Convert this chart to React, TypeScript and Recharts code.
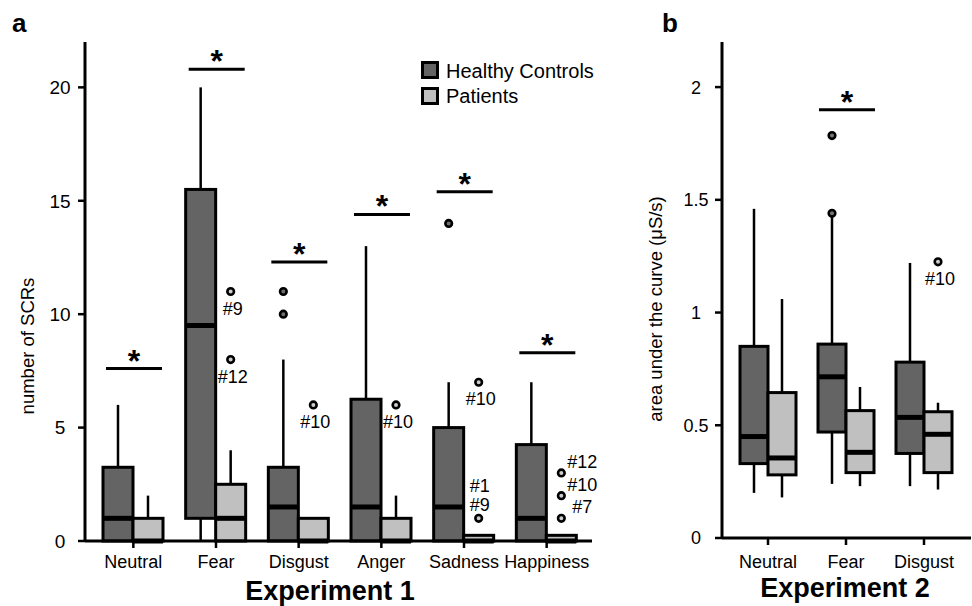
import React from 'react';
import { Bar, ComposedChart, XAxis, YAxis } from 'recharts';

const FONT = '"Liberation Sans", Arial, Helvetica, sans-serif';
const HC_FILL = '#646464';
const P_FILL = '#c0c0c0';

// ---- Experiment 1: number of SCRs ----
const EXP1_CATS = ['Neutral', 'Fear', 'Disgust', 'Anger', 'Sadness', 'Happiness'];

const EXP1_HC_MIN = [0, 0, 0, 0, 0, 0];
const EXP1_HC_Q1 = [0, 1, 0, 0, 0, 0];
const EXP1_HC_MED = [1, 9.5, 1.5, 1.5, 1.5, 1];
const EXP1_HC_Q3 = [3.25, 15.5, 3.25, 6.25, 5, 4.25];
const EXP1_HC_MAX = [6, 20, 8, 13, 7, 7];

const EXP1_P_MIN = [0, 0, 0, 0, 0, 0];
const EXP1_P_Q1 = [0, 0, 0, 0, 0, 0];
const EXP1_P_MED = [0, 1, 0, 0, 0, 0];
const EXP1_P_Q3 = [1, 2.5, 1, 1, 0.25, 0.25];
const EXP1_P_MAX = [2, 4, 1, 2, 0.25, 0.25];

// height of the significance bar (in SCRs), null = none
const EXP1_SIG = [7.6, 20.8, 12.3, 14.4, 15.4, 8.3];

const EXP1_HC_OUTLIERS = [
  { cat: 'Disgust', v: 11, labels: [] as string[] },
  { cat: 'Disgust', v: 10, labels: [] as string[] },
  { cat: 'Sadness', v: 14, labels: [] as string[] },
];
const EXP1_HC_LABEL_SIDE = ['below', 'below', 'below'];

const EXP1_P_OUTLIERS = [
  { cat: 'Fear', v: 11, labels: ['#9'] },
  { cat: 'Fear', v: 8, labels: ['#12'] },
  { cat: 'Disgust', v: 6, labels: ['#10'] },
  { cat: 'Anger', v: 6, labels: ['#10'] },
  { cat: 'Sadness', v: 7, labels: ['#10'] },
  { cat: 'Sadness', v: 1, labels: ['#1', '#9'] },
  { cat: 'Happiness', v: 3, labels: ['#12'] },
  { cat: 'Happiness', v: 2, labels: ['#10'] },
  { cat: 'Happiness', v: 1, labels: ['#7'] },
];
const EXP1_P_LABEL_SIDE = ['below', 'below', 'below', 'below', 'below', 'above', 'right', 'right', 'right'];

const EXP1_TICKS = [0, 5, 10, 15, 20];

// ---- Experiment 2: area under the curve ----
const EXP2_CATS = ['Neutral', 'Fear', 'Disgust'];

const EXP2_HC_MIN = [0.2, 0.24, 0.23];
const EXP2_HC_Q1 = [0.33, 0.47, 0.375];
const EXP2_HC_MED = [0.45, 0.715, 0.535];
const EXP2_HC_Q3 = [0.85, 0.86, 0.78];
const EXP2_HC_MAX = [1.46, 1.43, 1.22];

const EXP2_P_MIN = [0.18, 0.23, 0.215];
const EXP2_P_Q1 = [0.28, 0.29, 0.29];
const EXP2_P_MED = [0.355, 0.38, 0.46];
const EXP2_P_Q3 = [0.645, 0.565, 0.56];
const EXP2_P_MAX = [1.06, 0.67, 0.6];

const EXP2_SIG = [null, 1.9, null];

const EXP2_HC_OUTLIERS = [
  { cat: 'Fear', v: 1.44, labels: [] as string[] },
  { cat: 'Fear', v: 1.785, labels: [] as string[] },
];
const EXP2_HC_LABEL_SIDE = ['below', 'below'];
const EXP2_P_OUTLIERS = [{ cat: 'Disgust', v: 1.225, labels: ['#10'] }];
const EXP2_P_LABEL_SIDE = ['below'];

const EXP2_TICKS = [0, 0.5, 1, 1.5, 2];

// label offsets relative to the outlier circle
const LABEL_PLACE: Record<string, { dx: number; dy: number }> = {
  below: { dx: 2, dy: 23 },
  above: { dx: 1, dy: -26 },
  right: { dx: 21, dy: -5 },
};

type Stats = { min: number; q1: number; med: number; q3: number; max: number };
type Outlier = { cat: string; v: number; labels: string[]; side?: string };

const stats = (mn: number[], q1: number[], md: number[], q3: number[], mx: number[], i: number): Stats => ({
  min: mn[i],
  q1: q1[i],
  med: md[i],
  q3: q3[i],
  max: mx[i],
});

const withSide = (list: Outlier[], sides: string[]) => list.map((o, i) => ({ ...o, side: sides[i] }));

const EXP1_DATA = EXP1_CATS.map((cat, i) => ({
  cat,
  hcBox: [EXP1_HC_Q1[i], EXP1_HC_Q3[i]],
  pBox: [EXP1_P_Q1[i], EXP1_P_Q3[i]],
  hc: stats(EXP1_HC_MIN, EXP1_HC_Q1, EXP1_HC_MED, EXP1_HC_Q3, EXP1_HC_MAX, i),
  p: stats(EXP1_P_MIN, EXP1_P_Q1, EXP1_P_MED, EXP1_P_Q3, EXP1_P_MAX, i),
  hcOut: withSide(EXP1_HC_OUTLIERS, EXP1_HC_LABEL_SIDE).filter((o) => o.cat === cat),
  pOut: withSide(EXP1_P_OUTLIERS, EXP1_P_LABEL_SIDE).filter((o) => o.cat === cat),
  sig: EXP1_SIG[i],
}));

const EXP2_DATA = EXP2_CATS.map((cat, i) => ({
  cat,
  hcBox: [EXP2_HC_Q1[i], EXP2_HC_Q3[i]],
  pBox: [EXP2_P_Q1[i], EXP2_P_Q3[i]],
  hc: stats(EXP2_HC_MIN, EXP2_HC_Q1, EXP2_HC_MED, EXP2_HC_Q3, EXP2_HC_MAX, i),
  p: stats(EXP2_P_MIN, EXP2_P_Q1, EXP2_P_MED, EXP2_P_Q3, EXP2_P_MAX, i),
  hcOut: withSide(EXP2_HC_OUTLIERS, EXP2_HC_LABEL_SIDE).filter((o) => o.cat === cat),
  pOut: withSide(EXP2_P_OUTLIERS, EXP2_P_LABEL_SIDE).filter((o) => o.cat === cat),
  sig: EXP2_SIG[i],
}));

// Box plot drawn from the bar's own [q1, q3] rectangle (scale derived from it)
const BoxShape = (props: any) => {
  const { x, y, width, height, payload, group, fill, outFill, isLeft } = props;
  const s: Stats = payload[group];
  const outliers: Outlier[] = payload[group === 'hc' ? 'hcOut' : 'pOut'];
  const k = height / (s.q3 - s.q1);
  const py = (v: number) => y + height - (v - s.q1) * k;
  const cx = x + width / 2;
  const center = isLeft ? x + width : x;

  return (
    <g>
      {s.max > s.q3 && <line x1={cx} x2={cx} y1={py(s.q3)} y2={py(s.max)} stroke="#000" strokeWidth={2.5} />}
      {s.min < s.q1 && <line x1={cx} x2={cx} y1={py(s.q1)} y2={py(s.min)} stroke="#000" strokeWidth={2.5} />}
      <rect x={x} y={y} width={width} height={height} fill={fill} stroke="#000" strokeWidth={3} />
      <line x1={x} x2={x + width} y1={py(s.med)} y2={py(s.med)} stroke="#000" strokeWidth={5} />
      {outliers.map((o, i) => {
        const oy = py(o.v);
        const place = LABEL_PLACE[o.side || 'below'];
        return (
          <g key={i}>
            <circle cx={cx} cy={oy} r={3.3} fill={outFill} stroke="#000" strokeWidth={2.6} />
            {o.labels.map((lb, j) => (
              <text
                key={j}
                x={cx + place.dx}
                y={oy + place.dy + j * 19}
                textAnchor="middle"
                fontSize={18}
                fontFamily={FONT}
                fill="#000"
              >
                {lb}
              </text>
            ))}
          </g>
        );
      })}
      {isLeft && payload.sig != null && (
        <g>
          <line x1={center - 27} x2={center + 29} y1={py(payload.sig)} y2={py(payload.sig)} stroke="#000" strokeWidth={3} />
          <text
            x={center + 1}
            y={py(payload.sig) + 3}
            textAnchor="middle"
            fontSize={32}
            fontWeight="bold"
            fontFamily={FONT}
            fill="#000"
          >
            *
          </text>
        </g>
      )}
    </g>
  );
};

const YTick = (props: any) => {
  const { x, y, payload, shift, size } = props;
  return (
    <text x={x - shift} y={y} dy="0.36em" textAnchor="middle" fontSize={size} fontFamily={FONT} fill="#000">
      {String(payload.value)}
    </text>
  );
};

const axisLine = { stroke: '#000', strokeWidth: 3 };
const tickLine = { stroke: '#000', strokeWidth: 2.5 };
const xTick = { fontSize: 18, fill: '#000', fontFamily: FONT };

export default function App() {
  return (
    <div style={{ position: 'absolute', left: 0, top: 0, width: 972, height: 606, background: '#fff', fontFamily: FONT }}>
      <div style={{ position: 'absolute', left: 0, top: 0 }}>
        <ComposedChart width={600} height={606} data={EXP1_DATA} margin={{ top: 42, right: 8, bottom: 0, left: 0 }} barGap={0} barSize={30}>
          <XAxis
            dataKey="cat"
            type="category"
            height={65}
            padding={{ left: 7, right: 4 }}
            axisLine={axisLine}
            tickLine={tickLine}
            tickSize={7}
            tickMargin={7}
            tick={xTick}
            interval={0}
          />
          <YAxis
            type="number"
            domain={[0, 22]}
            ticks={EXP1_TICKS}
            width={85}
            axisLine={axisLine}
            tickLine={tickLine}
            tickSize={7}
            tick={<YTick shift={16} size={19} />}
          />
          <Bar dataKey="hcBox" isAnimationActive={false} shape={(p: any) => <BoxShape {...p} group="hc" fill={HC_FILL} outFill="#6e6e6e" isLeft />} />
          <Bar dataKey="pBox" isAnimationActive={false} shape={(p: any) => <BoxShape {...p} group="p" fill={P_FILL} outFill="#cccccc" />} />
        </ComposedChart>
      </div>
      <div style={{ position: 'absolute', left: 620, top: 0 }}>
        <ComposedChart width={352} height={606} data={EXP2_DATA} margin={{ top: 42, right: 1, bottom: 0, left: 0 }} barGap={0} barSize={28}>
          <XAxis
            dataKey="cat"
            type="category"
            height={68}
            padding={{ left: 7, right: 8 }}
            axisLine={axisLine}
            tickLine={tickLine}
            tickSize={7}
            tickMargin={10}
            tick={xTick}
            interval={0}
          />
          <YAxis
            type="number"
            domain={[0, 2.2]}
            ticks={EXP2_TICKS}
            width={102}
            axisLine={axisLine}
            tickLine={tickLine}
            tickSize={7}
            tick={<YTick shift={17} size={18} />}
          />
          <Bar dataKey="hcBox" isAnimationActive={false} shape={(p: any) => <BoxShape {...p} group="hc" fill={HC_FILL} outFill="#777777" isLeft />} />
          <Bar dataKey="pBox" isAnimationActive={false} shape={(p: any) => <BoxShape {...p} group="p" fill={P_FILL} outFill="#cccccc" />} />
        </ComposedChart>
      </div>
      <svg width={972} height={606} style={{ position: 'absolute', left: 0, top: 0, pointerEvents: 'none' }}>
        <text x={12} y={32} fontSize={26} fontWeight="bold" fontFamily={FONT}>a</text>
        <text x={662} y={32} fontSize={26} fontWeight="bold" fontFamily={FONT}>b</text>
        <text x={27} y={346} transform="rotate(-90 27 346)" textAnchor="middle" dominantBaseline="central" fontSize={18.5} fontFamily={FONT}>
          number of SCRs
        </text>
        <text x={655} y={309} transform="rotate(-90 655 309)" textAnchor="middle" dominantBaseline="central" fontSize={18.5} fontFamily={FONT}>
          area under the curve (μS/s)
        </text>
        <text x={330} y={600} textAnchor="middle" fontSize={27} fontWeight="bold" fontFamily={FONT}>Experiment 1</text>
        <text x={845} y={597} textAnchor="middle" fontSize={27} fontWeight="bold" fontFamily={FONT}>Experiment 2</text>
        <rect x={422.5} y={62.5} width={15} height={15} fill={HC_FILL} stroke="#000" strokeWidth={3} />
        <rect x={422.5} y={88.5} width={15} height={15} fill={P_FILL} stroke="#000" strokeWidth={3} />
        <text x={446} y={78} fontSize={20} fontFamily={FONT}>Healthy Controls</text>
        <text x={446} y={103} fontSize={20} fontFamily={FONT}>Patients</text>
      </svg>
    </div>
  );
}
